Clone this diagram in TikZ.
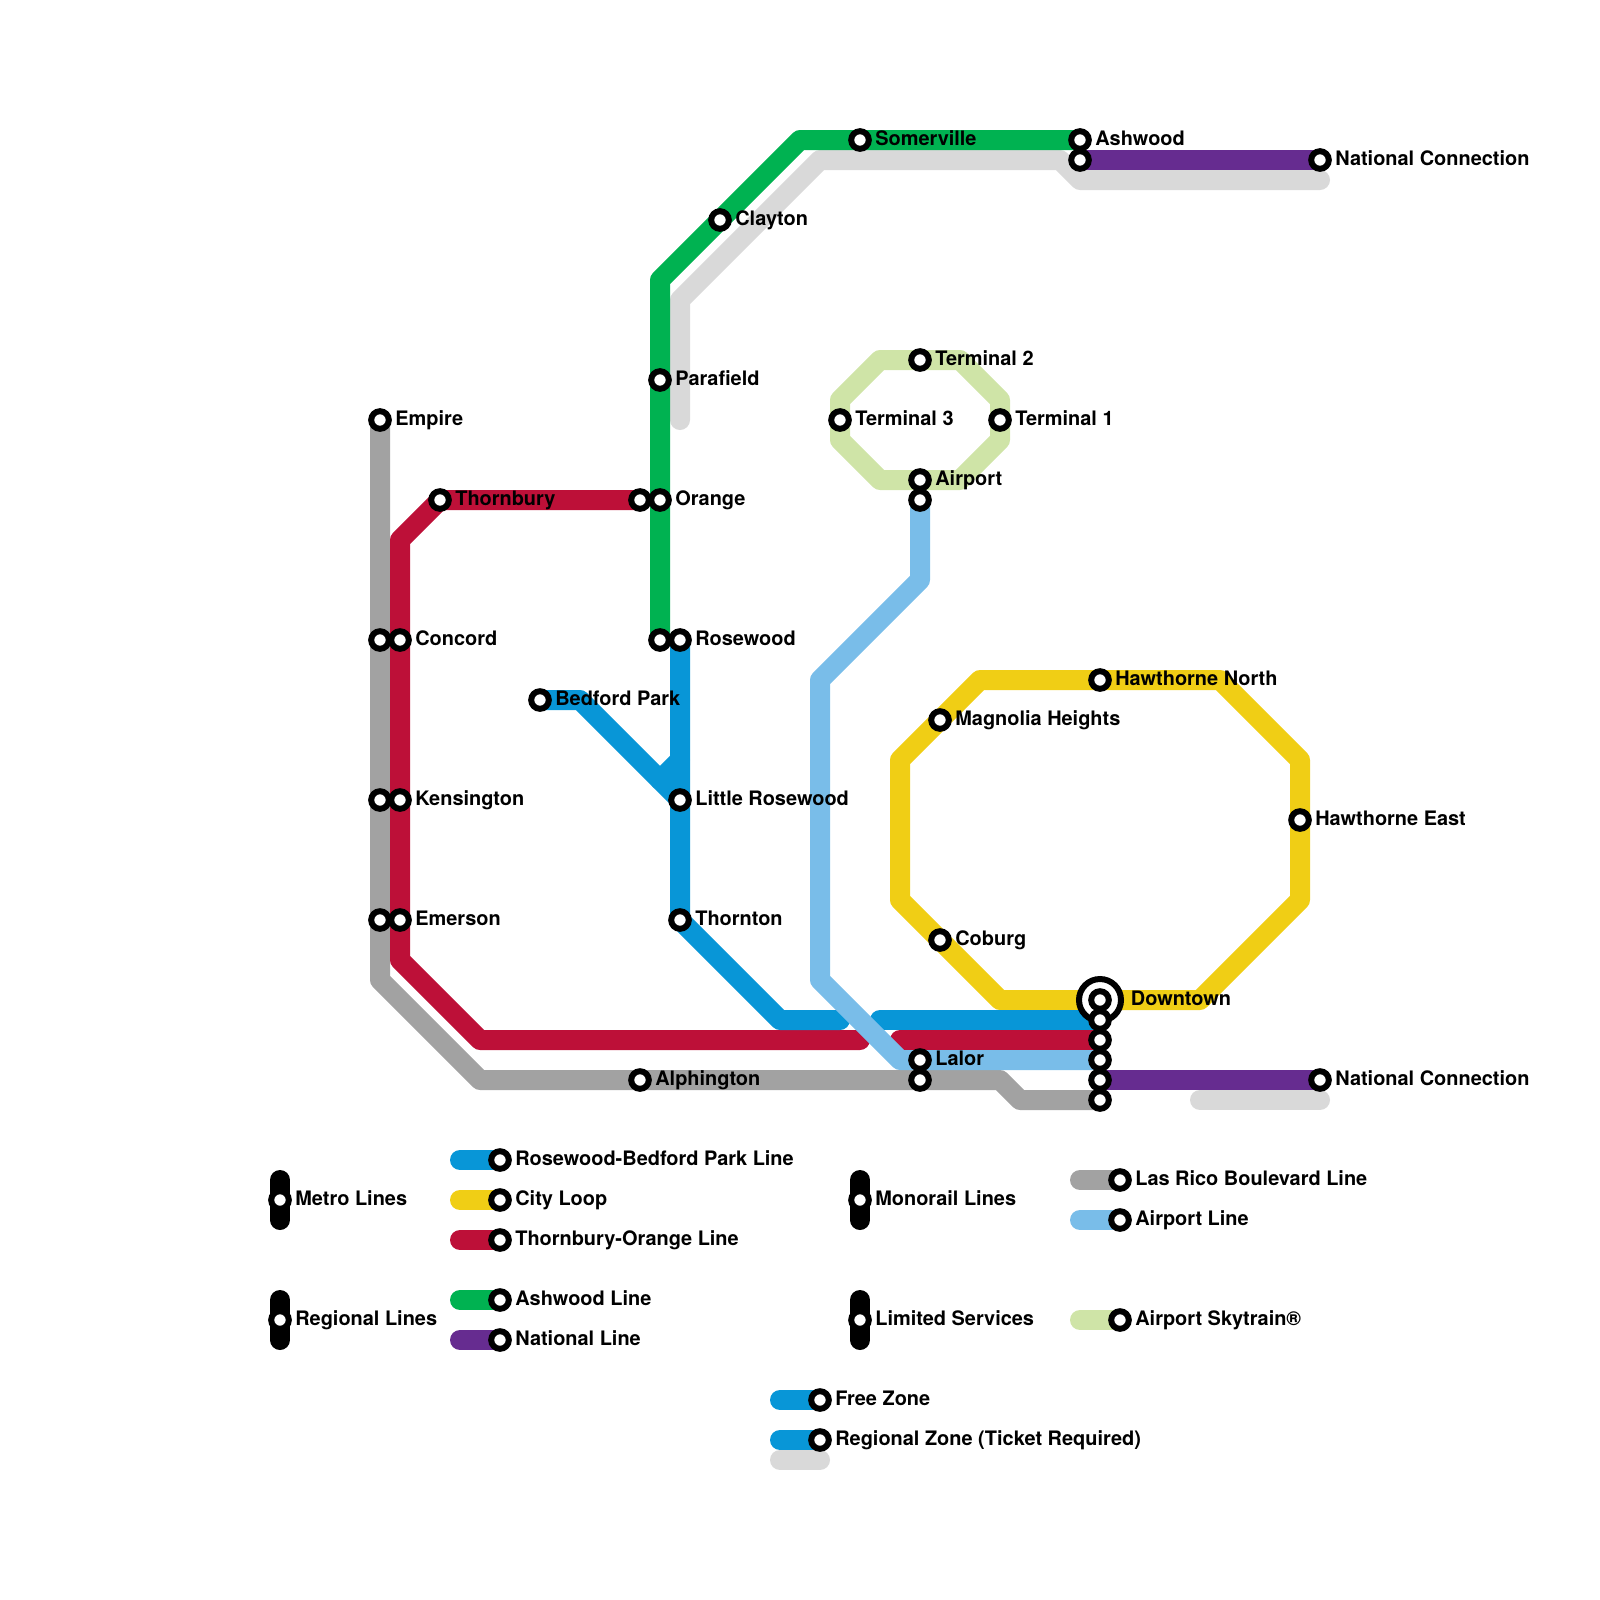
\documentclass[tikz,border=0pt]{standalone}
\usepackage{fontspec}
\setmainfont{TeX Gyre Heros}
\usetikzlibrary{positioning, backgrounds}
\definecolor{metroblue}{HTML}{0896D7}
\definecolor{cityyellow}{HTML}{F0CE15}
\definecolor{orangered}{HTML}{BD1038}
\definecolor{ashgreen}{HTML}{00B251}
\definecolor{natpurple}{HTML}{662C90}
\definecolor{ricogrey}{HTML}{A2A2A2}
\definecolor{airblue}{HTML}{79BDE9}
\definecolor{skygreen}{HTML}{CFE4A7}
\definecolor{limitgrey}{HTML}{D9D9D9}

\begin{document}
\begin{tikzpicture}[
  x=0.5cm, y=-0.5cm,
  node distance=0.156cm,
  route/.style={line width=0.5cm, line cap=round, line join=round},
  station/.style={circle, draw=black, line width=0.15cm, fill=white, minimum size=0.44cm, inner sep=0pt, outer sep=0pt},
  hubring/.style={circle, draw=black, line width=0.15cm, fill=white, minimum size=1.05cm, inner sep=0pt, outer sep=0pt},
  stopname/.style={font=\bfseries\fontsize{14.18}{16}\selectfont, inner sep=0pt, text height=0.33cm, text depth=0.05cm}
]
  \useasboundingbox (0,0) rectangle (80,80);

  % free line ends
  \coordinate (blueWestEnd) at (42,51);
  \coordinate (blueEastStart) at (44,51);
  \coordinate (redWestEnd) at (43,52);
  \coordinate (redEastStart) at (45,52);
  \coordinate (limitNorthEnd) at (34,21);
  \coordinate (limitEastEnd) at (66,9);
  \coordinate (limitHubStart) at (60,55);
  \coordinate (limitHubEnd) at (66,55);

  % stations on the map
  \node[station] (empire) at (19,21) {};
  \node[stopname, right=of empire] (empireName) {Empire};
  \node[station] (concordGrey) at (19,32) {};
  \node[station] (kensingtonGrey) at (19,40) {};
  \node[station] (emersonGrey) at (19,46) {};
  \node[station] (concord) at (20,32) {};
  \node[stopname, right=of concord] (concordName) {Concord};
  \node[station] (kensington) at (20,40) {};
  \node[stopname, right=of kensington] (kensingtonName) {Kensington};
  \node[station] (emerson) at (20,46) {};
  \node[stopname, right=of emerson] (emersonName) {Emerson};
  \node[station] (thornbury) at (22,25) {};
  \node[stopname, right=of thornbury] (thornburyName) {Thornbury};
  \node[station] (orangeRed) at (32,25) {};
  \node[station] (orange) at (33,25) {};
  \node[stopname, right=of orange] (orangeName) {Orange};
  \node[station] (parafield) at (33,19) {};
  \node[stopname, right=of parafield] (parafieldName) {Parafield};
  \node[station] (clayton) at (36,11) {};
  \node[stopname, right=of clayton] (claytonName) {Clayton};
  \node[station] (somerville) at (43,7) {};
  \node[stopname, right=of somerville] (somervilleName) {Somerville};
  \node[station] (ashwood) at (54,7) {};
  \node[stopname, right=of ashwood] (ashwoodName) {Ashwood};
  \node[station] (ashwoodNat) at (54,8) {};
  \node[station] (nationalNorth) at (66,8) {};
  \node[stopname, right=of nationalNorth] (nationalNorthName) {National Connection};
  \node[station] (rosewoodGreen) at (33,32) {};
  \node[station] (rosewood) at (34,32) {};
  \node[stopname, right=of rosewood] (rosewoodName) {Rosewood};
  \node[station] (bedford) at (27,35) {};
  \node[stopname, right=of bedford] (bedfordName) {Bedford Park};
  \node[station] (littleRosewood) at (34,40) {};
  \node[stopname, right=of littleRosewood] (littleRosewoodName) {Little Rosewood};
  \node[station] (thornton) at (34,46) {};
  \node[stopname, right=of thornton] (thorntonName) {Thornton};
  \node[station] (alphington) at (32,54) {};
  \node[stopname, right=of alphington] (alphingtonName) {Alphington};
  \node[station] (lalor) at (46,53) {};
  \node[stopname, right=of lalor] (lalorName) {Lalor};
  \node[station] (lalorGrey) at (46,54) {};

  \node[station] (terminalTwo) at (46,18) {};
  \node[stopname, right=of terminalTwo] (terminalTwoName) {Terminal 2};
  \node[station] (terminalThree) at (42,21) {};
  \node[stopname, right=of terminalThree] (terminalThreeName) {Terminal 3};
  \node[station] (terminalOne) at (50,21) {};
  \node[stopname, right=of terminalOne] (terminalOneName) {Terminal 1};
  \node[station] (airport) at (46,24) {};
  \node[stopname, right=of airport] (airportName) {Airport};
  \node[station] (airportLine) at (46,25) {};

  \node[station] (hawthorneNorth) at (55,34) {};
  \node[stopname, right=of hawthorneNorth] (hawthorneNorthName) {Hawthorne North};
  \node[station] (magnolia) at (47,36) {};
  \node[stopname, right=of magnolia] (magnoliaName) {Magnolia Heights};
  \node[station] (hawthorneEast) at (65,41) {};
  \node[stopname, right=of hawthorneEast] (hawthorneEastName) {Hawthorne East};
  \node[station] (coburg) at (47,47) {};
  \node[stopname, right=of coburg] (coburgName) {Coburg};

  \node[hubring] (downtownRing) at (55,50) {};
  \node[station] (downtown) at (55,50) {};
  \node[stopname, right=0.24cm of downtownRing] (downtownName) {Downtown};
  \node[station] (hubBlue) at (55,51) {};
  \node[station] (hubRed) at (55,52) {};
  \node[station] (hubAir) at (55,53) {};
  \node[station] (hubPurple) at (55,54) {};
  \node[station] (hubGrey) at (55,55) {};
  \node[station] (nationalSouth) at (66,54) {};
  \node[stopname, right=of nationalSouth] (nationalSouthName) {National Connection};

  % routes, kept under the stations
  \begin{pgfonlayer}{background}
    \draw[route, limitgrey] (limitNorthEnd) -- (34,15) -- (41,8) -- (53,8) -- (54,9) -- (limitEastEnd);
    \draw[route, limitgrey] (limitHubStart) -- (limitHubEnd);
    \draw[route, ricogrey] (empire.center) -- (19,49) -- (24,54) -- (alphington.center) -- (lalorGrey.center) -- (50,54) -- (51,55) -- (hubGrey.center);
    \draw[route, orangered] (orangeRed.center) -- (thornbury.center) -- (20,27) -- (20,48) -- (24,52) -- (redWestEnd);
    \draw[route, orangered] (redEastStart) -- (hubRed.center);
    \draw[route, ashgreen] (rosewoodGreen.center) -- (33,14) -- (40,7) -- (ashwood.center);
    \draw[route, natpurple] (ashwoodNat.center) -- (nationalNorth.center);
    \draw[route, natpurple] (hubPurple.center) -- (nationalSouth.center);
    \draw[route, cityyellow] (downtown.center) -- (50,50) -- (45,45) -- (45,38) -- (49,34) -- (61,34) -- (65,38) -- (65,45) -- (60,50) -- cycle;
    \draw[route, metroblue] (rosewood.center) -- (thornton.center) -- (39,51) -- (blueWestEnd);
    \draw[route, metroblue] (bedford.center) -- (29,35) -- (littleRosewood.center);
    \draw[route, metroblue] (34,38) -- (33,39);
    \draw[route, metroblue] (blueEastStart) -- (hubBlue.center);
    \draw[route, airblue] (airportLine.center) -- (46,29) -- (41,34) -- (41,49) -- (45,53) -- (hubAir.center);
    \draw[route, skygreen] (44,18) -- (48,18) -- (50,20) -- (50,22) -- (48,24) -- (44,24) -- (42,22) -- (42,20) -- cycle;
  \end{pgfonlayer}

  % key, left column
  \coordinate (metroTop) at (14,59);
  \coordinate (metroEnd) at (14,61);
  \node[station] (metroKey) at (14,60) {};
  \node[stopname, right=of metroKey] (metroKeyName) {Metro Lines};
  \coordinate (regionalTop) at (14,65);
  \coordinate (regionalEnd) at (14,67);
  \node[station] (regionalKey) at (14,66) {};
  \node[stopname, right=of regionalKey] (regionalKeyName) {Regional Lines};

  \coordinate (keyBlueStart) at (23,58);
  \node[station] (keyBlue) at (25,58) {};
  \node[stopname, right=of keyBlue] (keyBlueName) {Rosewood-Bedford Park Line};
  \coordinate (keyCityStart) at (23,60);
  \node[station] (keyCity) at (25,60) {};
  \node[stopname, right=of keyCity] (keyCityName) {City Loop};
  \coordinate (keyRedStart) at (23,62);
  \node[station] (keyRed) at (25,62) {};
  \node[stopname, right=of keyRed] (keyRedName) {Thornbury-Orange Line};
  \coordinate (keyGreenStart) at (23,65);
  \node[station] (keyGreen) at (25,65) {};
  \node[stopname, right=of keyGreen] (keyGreenName) {Ashwood Line};
  \coordinate (keyPurpleStart) at (23,67);
  \node[station] (keyPurple) at (25,67) {};
  \node[stopname, right=of keyPurple] (keyPurpleName) {National Line};

  % key, right column
  \coordinate (monorailTop) at (43,59);
  \coordinate (monorailEnd) at (43,61);
  \node[station] (monorailKey) at (43,60) {};
  \node[stopname, right=of monorailKey] (monorailKeyName) {Monorail Lines};
  \coordinate (limitedTop) at (43,65);
  \coordinate (limitedEnd) at (43,67);
  \node[station] (limitedKey) at (43,66) {};
  \node[stopname, right=of limitedKey] (limitedKeyName) {Limited Services};

  \coordinate (keyRicoStart) at (54,59);
  \node[station] (keyRico) at (56,59) {};
  \node[stopname, right=of keyRico] (keyRicoName) {Las Rico Boulevard Line};
  \coordinate (keyAirStart) at (54,61);
  \node[station] (keyAir) at (56,61) {};
  \node[stopname, right=of keyAir] (keyAirName) {Airport Line};
  \coordinate (keySkyStart) at (54,66);
  \node[station] (keySky) at (56,66) {};
  \node[stopname, right=of keySky] (keySkyName) {Airport Skytrain®};

  % key, zones
  \coordinate (keyFreeStart) at (39,70);
  \node[station] (keyFree) at (41,70) {};
  \node[stopname, right=of keyFree] (keyFreeName) {Free Zone};
  \coordinate (keyZoneStart) at (39,72);
  \node[station] (keyZone) at (41,72) {};
  \node[stopname, right=of keyZone] (keyZoneName) {Regional Zone (Ticket Required)};
  \coordinate (keyTicketStart) at (39,73);
  \coordinate (keyTicketEnd) at (41,73);

  \begin{pgfonlayer}{background}
    \draw[route, black] (metroTop) -- (metroEnd);
    \draw[route, black] (regionalTop) -- (regionalEnd);
    \draw[route, black] (monorailTop) -- (monorailEnd);
    \draw[route, black] (limitedTop) -- (limitedEnd);
    \draw[route, metroblue] (keyBlueStart) -- (keyBlue.center);
    \draw[route, cityyellow] (keyCityStart) -- (keyCity.center);
    \draw[route, orangered] (keyRedStart) -- (keyRed.center);
    \draw[route, ashgreen] (keyGreenStart) -- (keyGreen.center);
    \draw[route, natpurple] (keyPurpleStart) -- (keyPurple.center);
    \draw[route, ricogrey] (keyRicoStart) -- (keyRico.center);
    \draw[route, airblue] (keyAirStart) -- (keyAir.center);
    \draw[route, skygreen] (keySkyStart) -- (keySky.center);
    \draw[route, metroblue] (keyFreeStart) -- (keyFree.center);
    \draw[route, limitgrey] (keyTicketStart) -- (keyTicketEnd);
    \draw[route, metroblue] (keyZoneStart) -- (keyZone.center);
  \end{pgfonlayer}
\end{tikzpicture}
\end{document}
